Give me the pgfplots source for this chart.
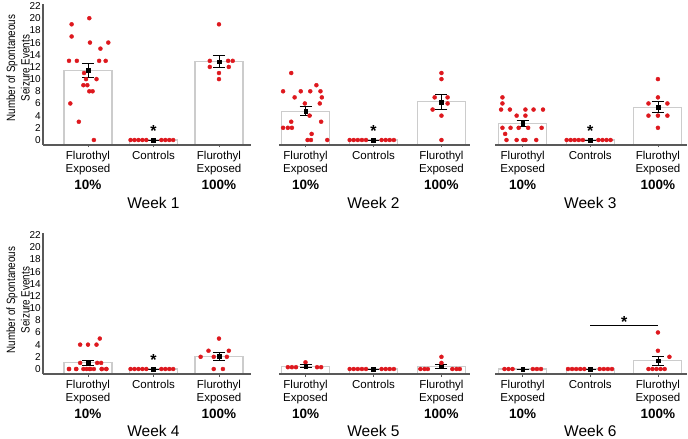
\documentclass[border=0pt]{standalone}
\usepackage{pgfplots}
\pgfplotsset{compat=1.18}
\usepackage{fontspec}
\setmainfont{Liberation Sans}
\newfontfamily\narrowfont[FakeStretch=0.82]{Liberation Sans}
\definecolor{dotred}{RGB}{222,24,30}
\newcommand\tickfont{\fontsize{11.5}{13}\selectfont}
\newcommand\ytickfont{\fontsize{10}{12}\selectfont}
\newcommand\pctfont{\fontsize{13.5}{16}\selectfont\bfseries}
\newcommand\weekfont{\fontsize{15.5}{18}\selectfont}
\newcommand\ylabfont{\narrowfont\fontsize{12}{14.5}\selectfont}
\newcommand\starfont{\fontsize{16}{18}\selectfont\bfseries}
\pgfplotsset{
  panel/.style={scale only axis, height=141.4pt, ymin=-0.82, ymax=22.4, clip=false, axis on top,
    axis x line=bottom,
    xtick={0,1,2}, xticklabels={{Flurothyl\\Exposed},Controls,{Flurothyl\\Exposed}},
    xticklabel style={font=\tickfont, align=center},
    tick align=outside, major tick length=2.5pt,
    tick style={draw=black!65, line width=0.8pt},
    /pgf/number format/assume math mode=true},
  firstpanel/.style={panel, axis y line=left, ytick={0,2,...,22},
    axis line style={-, draw=black!65, line width=1.4pt},
    yticklabel style={font=\ytickfont, inner xsep=0.8pt}},
  otherpanel/.style={panel, hide y axis, axis line style={-, draw=black!65, line width=1.4pt}},
  barst/.style={draw=black!20, fill=white, line width=1.1pt, mark=none},
  dotst/.style={only marks, mark=*, mark size=2pt, color=dotred, mark options={draw=dotred, fill=dotred}},
  meanst/.style={only marks, mark=square*, mark size=1.8pt, black,
    error bars/.cd, y dir=both, y explicit,
    error bar style={line width=0.8pt, black},
    error mark options={rotate=90, mark size=6pt, line width=0.8pt, black}},
}
\newcommand\pct{%
  \node[font=\pctfont, yshift=-40pt] at (axis cs:0,-0.82) {10\%};
  \node[font=\pctfont, yshift=-40pt] at (axis cs:2,-0.82) {100\%};}
\newcommand\ctrldots{\addplot[dotst] coordinates {(0.65,0) (0.71,0) (0.77,0) (0.83,0) (0.89,0) (1.12,0) (1.18,0) (1.24,0) (1.30,0)};}
\newcommand\ctrlstar{\node[font=\starfont, anchor=north, inner sep=0pt] at (axis cs:1,2.4) {*};}
\begin{document}
\begin{tikzpicture}
% ---------- Week 1
\begin{axis}[firstpanel, at={(43pt,294pt)}, anchor=south west, width=208pt, xmin=-0.687, xmax=2.489]
\addplot[barst] coordinates {(-0.366,-0.82) (-0.366,11.45) (0.366,11.45) (0.366,-0.82)};
\addplot[barst] coordinates {(0.634,-0.82) (0.634,0) (1.366,0) (1.366,-0.82)};
\addplot[barst] coordinates {(1.634,-0.82) (1.634,12.875) (2.366,12.875) (2.366,-0.82)};
\addplot[dotst] coordinates {(0.02,20) (-0.25,19) (-0.25,17) (0.03,16) (0.31,16) (0.19,15) (-0.29,13) (-0.17,13) (0.17,13) (0.27,13) (-0.06,11) (-0.03,10) (0.13,10) (-0.07,9) (-0.01,9) (0.02,8) (0.07,8) (-0.27,6) (-0.14,3) (0.09,0)};
\ctrldots
\addplot[dotst] coordinates {(2,19) (1.86,13) (2.14,13) (2.21,13) (1.86,12) (2.15,12) (2,11) (2,10)};
\addplot[meanst] coordinates {(0,11.45) +- (0,1.15) (1,0) +- (0,0) (2,12.875) +- (0,0.95)};
\ctrlstar
\pct
\node[font=\weekfont, yshift=-58pt] at (axis cs:1,-0.82) {Week 1};
\end{axis}
% ---------- Week 2
\begin{axis}[otherpanel, at={(279pt,294pt)}, anchor=south west, width=191pt, xmin=-0.39, xmax=2.42]
\addplot[barst] coordinates {(-0.355,-0.82) (-0.355,4.75) (0.355,4.75) (0.355,-0.82)};
\addplot[barst] coordinates {(0.645,-0.82) (0.645,0) (1.355,0) (1.355,-0.82)};
\addplot[barst] coordinates {(1.645,-0.82) (1.645,6.25) (2.355,6.25) (2.355,-0.82)};
\addplot[dotst] coordinates {(-0.21,11) (0.16,9) (-0.33,8) (-0.07,8) (0.07,8) (0.22,8) (-0.16,7) (0.24,7) (-0.01,6) (0.21,6) (0.06,4) (-0.21,3) (0.23,3) (-0.33,2) (-0.26,2) (-0.20,2) (0.09,1) (0.03,0) (0.08,0) (0.32,0)};
\ctrldots
\addplot[dotst] coordinates {(2,11) (2,10) (1.90,7) (2.09,7) (2.09,6) (1.87,5) (2,4) (2,0)};
\addplot[meanst] coordinates {(0,4.75) +- (0,0.75) (1,0) +- (0,0) (2,6.25) +- (0,1.25)};
\ctrlstar
\pct
\node[font=\weekfont, yshift=-58pt] at (axis cs:1,-0.82) {Week 2};
\end{axis}
% ---------- Week 3
\begin{axis}[otherpanel, at={(495pt,294pt)}, anchor=south west, width=192pt, xmin=-0.41, xmax=2.43]
\addplot[barst] coordinates {(-0.355,-0.82) (-0.355,2.75) (0.355,2.75) (0.355,-0.82)};
\addplot[barst] coordinates {(0.645,-0.82) (0.645,0) (1.355,0) (1.355,-0.82)};
\addplot[barst] coordinates {(1.645,-0.82) (1.645,5.375) (2.355,5.375) (2.355,-0.82)};
\addplot[dotst] coordinates {(-0.30,7) (-0.30,6) (-0.32,5) (-0.19,5) (0.04,5) (0.16,5) (0.30,5) (-0.09,4) (0.04,4) (-0.30,2) (-0.18,2) (-0.06,2) (0.08,2) (0.28,2) (-0.26,1) (-0.24,0) (-0.09,0) (0.01,0) (0.04,0) (0.20,0)};
\ctrldots
\addplot[dotst] coordinates {(2,10) (2,7) (1.86,6) (2.14,6) (1.86,4) (2,4) (2.14,4) (2,2)};
\addplot[meanst] coordinates {(0,2.75) +- (0,0.55) (1,0) +- (0,0) (2,5.375) +- (0,0.9)};
\ctrlstar
\pct
\node[font=\weekfont, yshift=-58pt] at (axis cs:1,-0.82) {Week 3};
\end{axis}
% ---------- Week 4
\begin{axis}[firstpanel, at={(43pt,65pt)}, anchor=south west, width=208pt, xmin=-0.687, xmax=2.489]
\addplot[barst] coordinates {(-0.366,-0.82) (-0.366,1.0) (0.366,1.0) (0.366,-0.82)};
\addplot[barst] coordinates {(0.634,-0.82) (0.634,0) (1.366,0) (1.366,-0.82)};
\addplot[barst] coordinates {(1.634,-0.82) (1.634,2.125) (2.366,2.125) (2.366,-0.82)};
\addplot[dotst] coordinates {(0.18,5) (-0.12,4) (0,4) (0.13,4) (-0.12,1) (0.14,1) (0.20,1) (-0.29,0) (-0.18,0) (-0.07,0) (-0.02,0) (0.03,0) (0.09,0) (0.21,0) (0.28,0) (-0.29,0) (-0.18,0) (0.03,0) (0.21,0) (0.28,0)};
\ctrldots
\addplot[dotst] coordinates {(2,5) (1.84,3) (2.15,3) (1.72,2) (1.92,2) (2.12,2) (1.92,0) (2.06,0)};
\addplot[meanst] coordinates {(0,1.0) +- (0,0.42) (1,0) +- (0,0) (2,2.125) +- (0,0.65)};
\ctrlstar
\pct
\node[font=\weekfont, yshift=-57pt] at (axis cs:1,-0.82) {Week 4};
\end{axis}
% ---------- Week 5
\begin{axis}[otherpanel, at={(279pt,65pt)}, anchor=south west, width=191pt, xmin=-0.39, xmax=2.42]
\addplot[barst] coordinates {(-0.355,-0.82) (-0.355,0.45) (0.355,0.45) (0.355,-0.82)};
\addplot[barst] coordinates {(0.645,-0.82) (0.645,0) (1.355,0) (1.355,-0.82)};
\addplot[barst] coordinates {(1.645,-0.82) (1.645,0.375) (2.355,0.375) (2.355,-0.82)};
\addplot[dotst] coordinates {(-0.26,0.3) (-0.20,0.3) (-0.14,0.3) (0.17,0.3) (0.23,0.3) (0,1.1)};
\ctrldots
\addplot[dotst] coordinates {(1.69,0) (1.75,0) (1.80,0) (2.16,0) (2.22,0) (2.27,0) (2,1) (2,2)};
\addplot[meanst] coordinates {(0,0.45) +- (0,0.25) (1,0) +- (0,0) (2,0.375) +- (0,0.35)};
\pct
\node[font=\weekfont, yshift=-57pt] at (axis cs:1,-0.82) {Week 5};
\end{axis}
% ---------- Week 6
\begin{axis}[otherpanel, at={(495pt,65pt)}, anchor=south west, width=192pt, xmin=-0.41, xmax=2.43]
\addplot[barst] coordinates {(-0.355,-0.82) (-0.355,0) (0.355,0) (0.355,-0.82)};
\addplot[barst] coordinates {(0.645,-0.82) (0.645,0) (1.355,0) (1.355,-0.82)};
\addplot[barst] coordinates {(1.645,-0.82) (1.645,1.375) (2.355,1.375) (2.355,-0.82)};
\addplot[dotst] coordinates {(-0.27,0) (-0.21,0) (-0.15,0) (0.15,0) (0.21,0) (0.27,0)};
\addplot[dotst] coordinates {(0.67,0) (0.73,0) (0.79,0) (0.85,0) (0.91,0) (1.14,0) (1.20,0) (1.26,0) (1.32,0)};
\addplot[dotst] coordinates {(2,6) (2,3) (2.17,2) (1.86,0) (1.92,0) (1.98,0) (2.04,0) (2.10,0)};
\addplot[meanst] coordinates {(0,0) +- (0,0) (1,0) +- (0,0) (2,1.375) +- (0,0.75)};
\draw[black, line width=0.9pt] (axis cs:1,7.1) -- (axis cs:2,7.1);
\node[font=\starfont, anchor=north, inner sep=0pt] at (axis cs:1.5,8.6) {*};
\pct
\node[font=\weekfont, yshift=-57pt] at (axis cs:1,-0.82) {Week 6};
\end{axis}
% ---------- y labels
\node[rotate=90, align=center, font=\ylabfont] at (18pt,371pt) {Number of Spontaneous\\Seizure Events};
\node[rotate=90, align=center, font=\ylabfont] at (18pt,139pt) {Number of Spontaneous\\Seizure Events};
\pgfresetboundingbox
\path[use as bounding box] (0pt,0pt) rectangle (688pt,439pt);
\end{tikzpicture}
\end{document}
